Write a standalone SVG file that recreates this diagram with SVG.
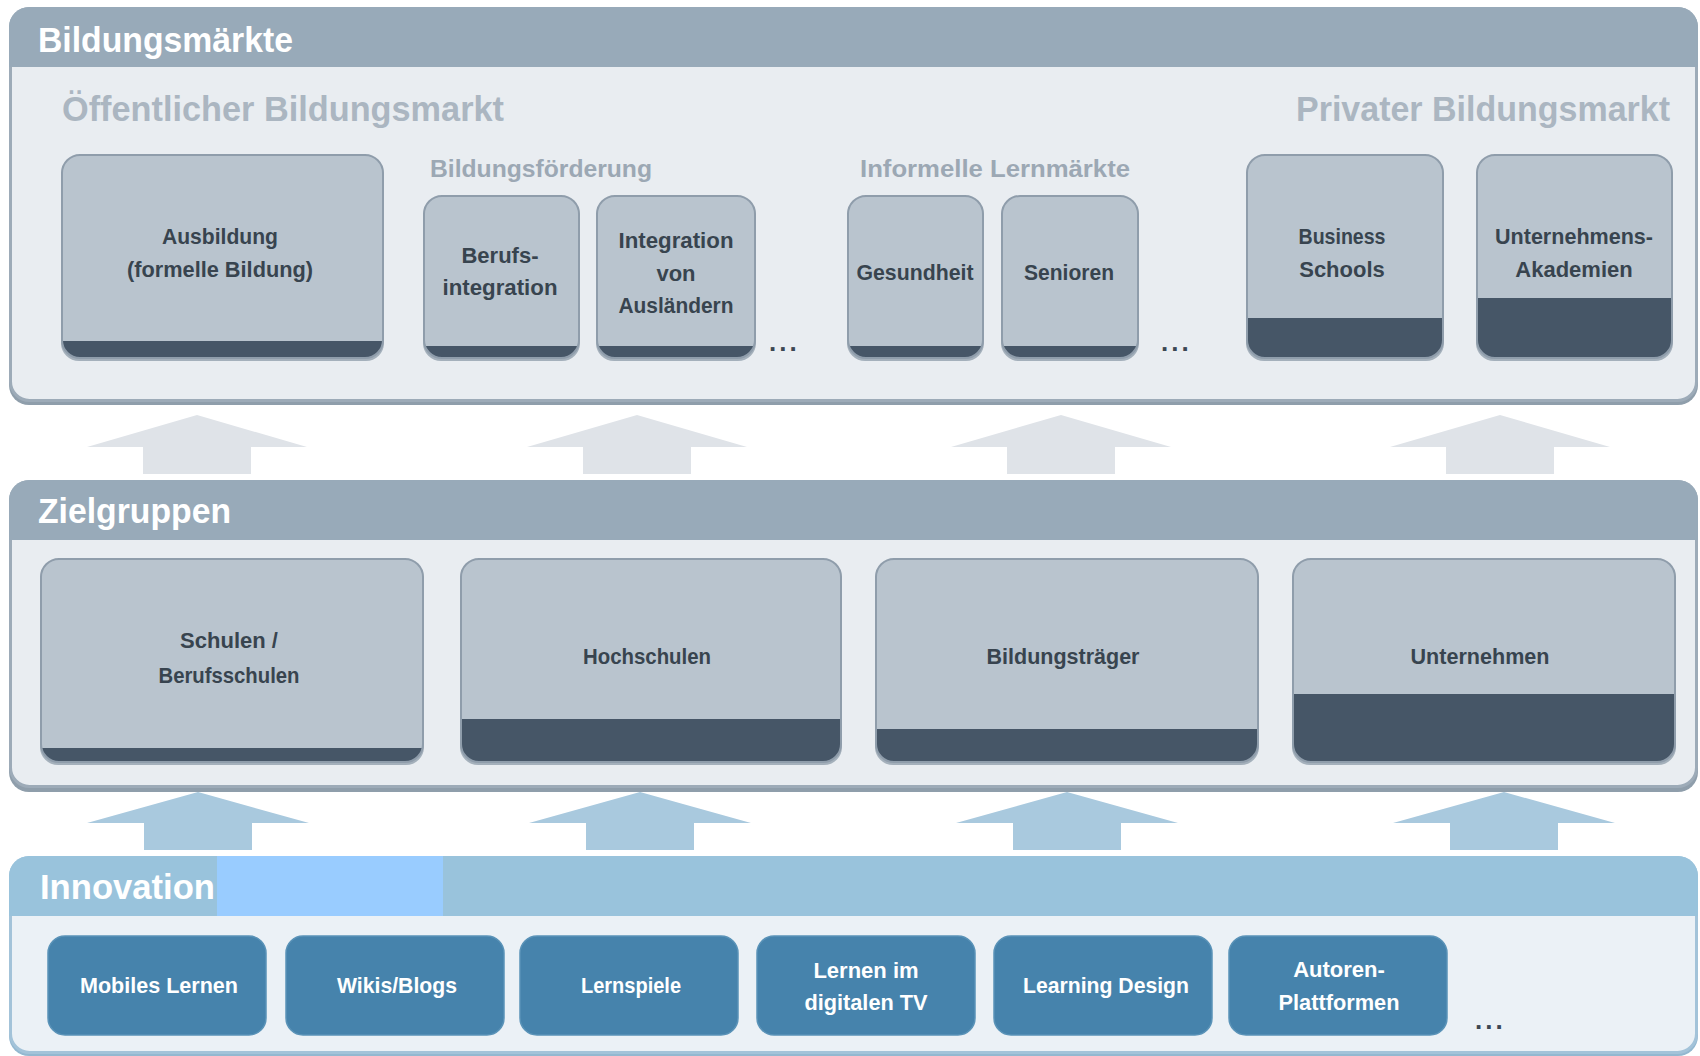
<svg xmlns="http://www.w3.org/2000/svg" width="1700" height="1056" viewBox="0 0 1700 1056">
<defs>
<style>
.pbody{fill:#e9edf1;stroke:#9dabb8;stroke-width:3}
.pshadow{fill:#8f9eab}
.phead{fill:#98aab9}
.ibody{fill:#ebf1f6;stroke:#a3c3d9;stroke-width:3}
.ishadow{fill:#93b8d0}
.ihead{fill:#99c3dc}
.hl{fill:#99ccff}
.htxt{font-family:"Liberation Sans","DejaVu Sans",sans-serif;font-weight:bold;font-size:35px;fill:#ffffff}
.sub{font-family:"Liberation Sans","DejaVu Sans",sans-serif;font-weight:bold;font-size:35px;fill:#abb6c1}
.grp{font-family:"Liberation Sans","DejaVu Sans",sans-serif;font-weight:bold;font-size:24px;fill:#9ca8b4}
.bdark{fill:#465667}
.blight{fill:#b9c4ce}
.bline{fill:none;stroke:#8f9dab;stroke-width:2}
.bshadow{fill:#a4b0bb}
.btxt{font-family:"Liberation Sans","DejaVu Sans",sans-serif;font-weight:bold;font-size:22px;fill:#38444f;text-anchor:middle}
.ibox{fill:#4683ac;stroke:#5a93b8;stroke-width:1.5}
.itxt{font-family:"Liberation Sans","DejaVu Sans",sans-serif;font-weight:bold;font-size:22px;fill:#ffffff;text-anchor:middle}
.dots{font-family:"Liberation Sans","DejaVu Sans",sans-serif;font-weight:bold;font-size:26px;fill:#3c4753;letter-spacing:3px}
.arrG{fill:#dfe3e8}
.arrB{fill:#a9c9de}
</style>
</defs>

<!-- Panel 1: Bildungsmärkte -->
<g id="panel-bildungsmaerkte">
<rect class="pshadow" x="9" y="10" width="1689" height="395" rx="20"/>
<rect class="pbody" x="10.5" y="8.5" width="1686" height="392" rx="19"/>
<path class="phead" d="M9,67 V27 A20,20 0 0 1 29,7 H1678 A20,20 0 0 1 1698,27 V67 Z"/>
<text class="htxt" x="38" y="52" textLength="255" lengthAdjust="spacingAndGlyphs">Bildungsmärkte</text>
<text class="sub" x="62" y="121" textLength="442" lengthAdjust="spacingAndGlyphs">Öffentlicher Bildungsmarkt</text>
<text class="sub" x="1296" y="121" textLength="374" lengthAdjust="spacingAndGlyphs">Privater Bildungsmarkt</text>
<text class="grp" x="430" y="177" textLength="222" lengthAdjust="spacingAndGlyphs">Bildungsförderung</text>
<text class="grp" x="860" y="177" textLength="270" lengthAdjust="spacingAndGlyphs">Informelle Lernmärkte</text>
<text class="dots" x="769" y="351">...</text>
<text class="dots" x="1161" y="351">...</text>
</g>

<g id="node-ausbildung">
<rect class="bshadow" x="61" y="157" width="323" height="204" rx="18"/>
<rect class="bdark" x="62" y="155" width="321" height="203" rx="18"/>
<path class="blight" d="M62,341 V173 A18,18 0 0 1 80,155 H365 A18,18 0 0 1 383,173 V341 Z"/>
<rect class="bline" x="62" y="155" width="321" height="203" rx="18"/>
<text class="btxt" x="220" y="244" textLength="116" lengthAdjust="spacingAndGlyphs">Ausbildung</text>
<text class="btxt" x="220" y="277" textLength="186" lengthAdjust="spacingAndGlyphs">(formelle Bildung)</text>
</g>

<g id="node-berufsintegration">
<rect class="bshadow" x="423" y="198" width="157" height="163" rx="18"/>
<rect class="bdark" x="424" y="196" width="155" height="162" rx="18"/>
<path class="blight" d="M424,346 V214 A18,18 0 0 1 442,196 H561 A18,18 0 0 1 579,214 V346 Z"/>
<rect class="bline" x="424" y="196" width="155" height="162" rx="18"/>
<text class="btxt" x="500" y="263">Berufs-</text>
<text class="btxt" x="500" y="295" textLength="115" lengthAdjust="spacingAndGlyphs">integration</text>
</g>

<g id="node-integration-auslaender">
<rect class="bshadow" x="596" y="198" width="160" height="163" rx="18"/>
<rect class="bdark" x="597" y="196" width="158" height="162" rx="18"/>
<path class="blight" d="M597,346 V214 A18,18 0 0 1 615,196 H737 A18,18 0 0 1 755,214 V346 Z"/>
<rect class="bline" x="597" y="196" width="158" height="162" rx="18"/>
<text class="btxt" x="676" y="248" textLength="115" lengthAdjust="spacingAndGlyphs">Integration</text>
<text class="btxt" x="676" y="281">von</text>
<text class="btxt" x="676" y="313" textLength="115" lengthAdjust="spacingAndGlyphs">Ausländern</text>
</g>

<g id="node-gesundheit">
<rect class="bshadow" x="847" y="198" width="137" height="163" rx="18"/>
<rect class="bdark" x="848" y="196" width="135" height="162" rx="18"/>
<path class="blight" d="M848,346 V214 A18,18 0 0 1 866,196 H965 A18,18 0 0 1 983,214 V346 Z"/>
<rect class="bline" x="848" y="196" width="135" height="162" rx="18"/>
<text class="btxt" x="915" y="280" textLength="117" lengthAdjust="spacingAndGlyphs">Gesundheit</text>
</g>

<g id="node-senioren">
<rect class="bshadow" x="1001" y="198" width="138" height="163" rx="18"/>
<rect class="bdark" x="1002" y="196" width="136" height="162" rx="18"/>
<path class="blight" d="M1002,346 V214 A18,18 0 0 1 1020,196 H1120 A18,18 0 0 1 1138,214 V346 Z"/>
<rect class="bline" x="1002" y="196" width="136" height="162" rx="18"/>
<text class="btxt" x="1069" y="280" textLength="90" lengthAdjust="spacingAndGlyphs">Senioren</text>
</g>

<g id="node-business-schools">
<rect class="bshadow" x="1246" y="157" width="198" height="204" rx="18"/>
<rect class="bdark" x="1247" y="155" width="196" height="203" rx="18"/>
<path class="blight" d="M1247,318 V173 A18,18 0 0 1 1265,155 H1425 A18,18 0 0 1 1443,173 V318 Z"/>
<rect class="bline" x="1247" y="155" width="196" height="203" rx="18"/>
<text class="btxt" x="1342" y="244" textLength="87" lengthAdjust="spacingAndGlyphs">Business</text>
<text class="btxt" x="1342" y="277">Schools</text>
</g>

<g id="node-unternehmensakademien">
<rect class="bshadow" x="1476" y="157" width="197" height="204" rx="18"/>
<rect class="bdark" x="1477" y="155" width="195" height="203" rx="18"/>
<path class="blight" d="M1477,298 V173 A18,18 0 0 1 1495,155 H1654 A18,18 0 0 1 1672,173 V298 Z"/>
<rect class="bline" x="1477" y="155" width="195" height="203" rx="18"/>
<text class="btxt" x="1574" y="244" textLength="158" lengthAdjust="spacingAndGlyphs">Unternehmens-</text>
<text class="btxt" x="1574" y="277">Akademien</text>
</g>

<!-- Panel 2: Zielgruppen -->
<g id="panel-zielgruppen">
<rect class="pshadow" x="9" y="483" width="1689" height="309" rx="20"/>
<rect class="pbody" x="10.5" y="481.5" width="1686" height="305" rx="19"/>
<path class="phead" d="M9,540 V500 A20,20 0 0 1 29,480 H1678 A20,20 0 0 1 1698,500 V540 Z"/>
<text class="htxt" x="38" y="523" textLength="193" lengthAdjust="spacingAndGlyphs">Zielgruppen</text>
</g>

<g id="node-schulen">
<rect class="bshadow" x="40" y="561" width="384" height="204" rx="18"/>
<rect class="bdark" x="41" y="559" width="382" height="203" rx="18"/>
<path class="blight" d="M41,748 V577 A18,18 0 0 1 59,559 H405 A18,18 0 0 1 423,577 V748 Z"/>
<rect class="bline" x="41" y="559" width="382" height="203" rx="18"/>
<text class="btxt" x="229" y="648">Schulen /</text>
<text class="btxt" x="229" y="683" textLength="141" lengthAdjust="spacingAndGlyphs">Berufsschulen</text>
</g>

<g id="node-hochschulen">
<rect class="bshadow" x="460" y="561" width="382" height="204" rx="18"/>
<rect class="bdark" x="461" y="559" width="380" height="203" rx="18"/>
<path class="blight" d="M461,719 V577 A18,18 0 0 1 479,559 H823 A18,18 0 0 1 841,577 V719 Z"/>
<rect class="bline" x="461" y="559" width="380" height="203" rx="18"/>
<text class="btxt" x="647" y="664" textLength="128" lengthAdjust="spacingAndGlyphs">Hochschulen</text>
</g>

<g id="node-bildungstraeger">
<rect class="bshadow" x="875" y="561" width="384" height="204" rx="18"/>
<rect class="bdark" x="876" y="559" width="382" height="203" rx="18"/>
<path class="blight" d="M876,729 V577 A18,18 0 0 1 894,559 H1240 A18,18 0 0 1 1258,577 V729 Z"/>
<rect class="bline" x="876" y="559" width="382" height="203" rx="18"/>
<text class="btxt" x="1063" y="664" textLength="153" lengthAdjust="spacingAndGlyphs">Bildungsträger</text>
</g>

<g id="node-unternehmen">
<rect class="bshadow" x="1292" y="561" width="384" height="204" rx="18"/>
<rect class="bdark" x="1293" y="559" width="382" height="203" rx="18"/>
<path class="blight" d="M1293,694 V577 A18,18 0 0 1 1311,559 H1657 A18,18 0 0 1 1675,577 V694 Z"/>
<rect class="bline" x="1293" y="559" width="382" height="203" rx="18"/>
<text class="btxt" x="1480" y="664" textLength="139" lengthAdjust="spacingAndGlyphs">Unternehmen</text>
</g>

<!-- Panel 3: Innovation -->
<g id="panel-innovation">
<rect class="ishadow" x="9" y="859" width="1689" height="197" rx="20"/>
<rect class="ibody" x="10.5" y="857.5" width="1686" height="195" rx="19"/>
<path class="ihead" d="M9,916 V876 A20,20 0 0 1 29,856 H1678 A20,20 0 0 1 1698,876 V916 Z"/>
<rect class="hl" x="217" y="856" width="226" height="60"/>
<text class="htxt" x="40" y="899" textLength="175" lengthAdjust="spacingAndGlyphs">Innovation</text>
<text class="dots" x="1475" y="1029">...</text>
</g>

<g id="node-mobiles-lernen">
<rect class="ibox" x="48" y="936" width="218" height="99" rx="17"/>
<text class="itxt" x="159" y="993" textLength="158" lengthAdjust="spacingAndGlyphs">Mobiles Lernen</text>
</g>
<g id="node-wikis-blogs">
<rect class="ibox" x="286" y="936" width="218" height="99" rx="17"/>
<text class="itxt" x="397" y="993" textLength="120" lengthAdjust="spacingAndGlyphs">Wikis/Blogs</text>
</g>
<g id="node-lernspiele">
<rect class="ibox" x="520" y="936" width="218" height="99" rx="17"/>
<text class="itxt" x="631" y="993" textLength="100" lengthAdjust="spacingAndGlyphs">Lernspiele</text>
</g>
<g id="node-lernen-tv">
<rect class="ibox" x="757" y="936" width="218" height="99" rx="17"/>
<text class="itxt" x="866" y="978">Lernen im</text>
<text class="itxt" x="866" y="1010" textLength="123" lengthAdjust="spacingAndGlyphs">digitalen TV</text>
</g>
<g id="node-learning-design">
<rect class="ibox" x="994" y="936" width="218" height="99" rx="17"/>
<text class="itxt" x="1106" y="993" textLength="166" lengthAdjust="spacingAndGlyphs">Learning Design</text>
</g>
<g id="node-autorenplattformen">
<rect class="ibox" x="1229" y="936" width="218" height="99" rx="17"/>
<text class="itxt" x="1339" y="977">Autoren-</text>
<text class="itxt" x="1339" y="1010" textLength="121" lengthAdjust="spacingAndGlyphs">Plattformen</text>
</g>

<!-- Connectors -->
<g id="connectors">
<polygon class="arrG" points="197,415 307,447 251,447 251,474 143,474 143,447 87,447"/>
<polygon class="arrG" points="637,415 747,447 691,447 691,474 583,474 583,447 527,447"/>
<polygon class="arrG" points="1061,415 1171,447 1115,447 1115,474 1007,474 1007,447 951,447"/>
<polygon class="arrG" points="1500,415 1610,447 1554,447 1554,474 1446,474 1446,447 1390,447"/>
<polygon class="arrB" points="198,792 309,823 252,823 252,850 144,850 144,823 87,823"/>
<polygon class="arrB" points="640,792 751,823 694,823 694,850 586,850 586,823 529,823"/>
<polygon class="arrB" points="1067,792 1178,823 1121,823 1121,850 1013,850 1013,823 956,823"/>
<polygon class="arrB" points="1504,792 1615,823 1558,823 1558,850 1450,850 1450,823 1393,823"/>
</g>
</svg>
